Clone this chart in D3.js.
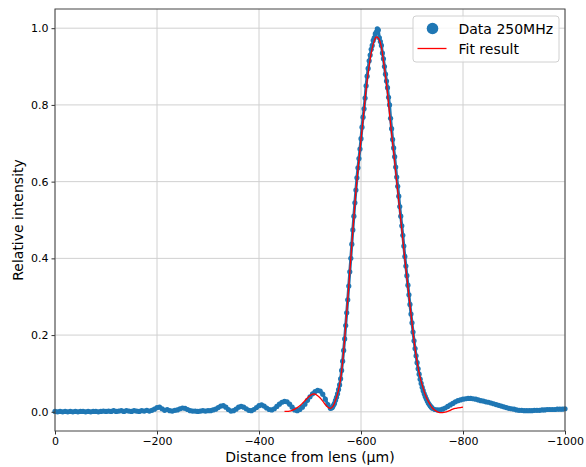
<!DOCTYPE html>
<html>
<head>
<meta charset="utf-8">
<script src="https://cdn.jsdelivr.net/npm/d3@7"></script>
<style>
  body { margin: 0; background: #fff; }
  svg text { font-family: "DejaVu Sans", sans-serif; fill: #000; }
</style>
</head>
<body>
<div id="plot"></div>
<script>
// measured points [distance (µm), relative intensity]
const dataPoints = [
  [0, 0.001], [-5, 0.000], [-10, 0.001], [-15, 0.000], [-20, 0.001], [-25, 0.000], [-30, 0.001], [-35, 0.000],
  [-40, 0.001], [-45, 0.000], [-50, 0.001], [-55, 0.001], [-60, 0.000], [-65, 0.001], [-70, 0.000], [-75, 0.001],
  [-80, 0.001], [-85, 0.000], [-90, 0.001], [-95, 0.002], [-100, 0.001], [-105, 0.002], [-110, 0.001], [-115, 0.003],
  [-120, 0.001], [-125, 0.002], [-130, 0.003], [-135, 0.001], [-140, 0.003], [-145, 0.002], [-150, 0.001], [-155, 0.003],
  [-160, 0.002], [-165, 0.001], [-170, 0.003], [-175, 0.002], [-180, 0.004], [-185, 0.002], [-190, 0.004], [-195, 0.007],
  [-200, 0.011], [-205, 0.012], [-210, 0.008], [-215, 0.004], [-220, 0.006], [-225, 0.003], [-230, 0.002], [-235, 0.004],
  [-240, 0.005], [-245, 0.008], [-250, 0.010], [-255, 0.009], [-260, 0.006], [-265, 0.003], [-270, 0.002], [-275, 0.002],
  [-280, 0.001], [-285, 0.002], [-290, 0.003], [-295, 0.002], [-300, 0.003], [-305, 0.003], [-310, 0.005], [-315, 0.007],
  [-320, 0.011], [-325, 0.015], [-330, 0.016], [-335, 0.012], [-340, 0.006], [-345, 0.002], [-350, 0.003], [-355, 0.007],
  [-360, 0.012], [-365, 0.014], [-370, 0.012], [-375, 0.008], [-380, 0.004], [-385, 0.003], [-390, 0.006], [-395, 0.011],
  [-400, 0.016], [-405, 0.018], [-410, 0.015], [-415, 0.010], [-420, 0.006], [-425, 0.005], [-430, 0.008], [-435, 0.014],
  [-440, 0.020], [-445, 0.025], [-450, 0.027], [-455, 0.026], [-460, 0.020], [-465, 0.012], [-470, 0.005], [-475, 0.003],
  [-480, 0.006], [-485, 0.012], [-490, 0.020], [-495, 0.030], [-500, 0.039], [-505, 0.047], [-510, 0.053], [-515, 0.056],
  [-520, 0.054], [-525, 0.046], [-530, 0.033], [-535, 0.019], [-540, 0.009],
  [-542, 0.010], [-544, 0.012], [-546, 0.017], [-548, 0.022], [-550, 0.030], [-552, 0.038], [-554, 0.047], [-556, 0.058],
  [-558, 0.070], [-560, 0.086], [-562, 0.108], [-564, 0.132], [-566, 0.160], [-568, 0.190], [-570, 0.225], [-572, 0.258],
  [-574, 0.292], [-576, 0.328], [-578, 0.365], [-580, 0.400], [-582, 0.437], [-584, 0.474], [-586, 0.510], [-588, 0.545],
  [-590, 0.578], [-592, 0.610], [-594, 0.636], [-596, 0.660], [-598, 0.685], [-600, 0.712], [-602, 0.742], [-604, 0.768],
  [-606, 0.790], [-608, 0.818], [-610, 0.850], [-612, 0.875], [-614, 0.895], [-616, 0.915], [-618, 0.930], [-620, 0.945],
  [-622, 0.955], [-624, 0.968], [-626, 0.975], [-628, 0.985], [-630, 0.990], [-632, 0.998], [-634, 0.995], [-636, 0.975],
  [-638, 0.965], [-640, 0.955], [-642, 0.935], [-644, 0.920], [-646, 0.900], [-648, 0.880], [-650, 0.862], [-652, 0.845],
  [-654, 0.820], [-656, 0.800], [-658, 0.765], [-660, 0.738], [-662, 0.710], [-664, 0.688], [-666, 0.665], [-668, 0.638],
  [-670, 0.612], [-672, 0.588], [-674, 0.562], [-676, 0.535], [-678, 0.510], [-680, 0.485], [-682, 0.460], [-684, 0.432],
  [-686, 0.405], [-688, 0.380], [-690, 0.355], [-692, 0.330], [-694, 0.305], [-696, 0.280], [-698, 0.255], [-700, 0.232],
  [-702, 0.208], [-704, 0.185], [-706, 0.165], [-708, 0.146], [-710, 0.128], [-712, 0.112], [-714, 0.098], [-716, 0.085],
  [-718, 0.074], [-720, 0.064], [-722, 0.055], [-724, 0.047], [-726, 0.040], [-728, 0.034], [-730, 0.028], [-732, 0.023],
  [-734, 0.019], [-736, 0.015], [-738, 0.012], [-740, 0.009],
  [-745, 0.006], [-750, 0.005], [-755, 0.005], [-760, 0.007], [-765, 0.010], [-770, 0.014], [-775, 0.018], [-780, 0.022],
  [-785, 0.026], [-790, 0.029], [-795, 0.031], [-800, 0.033], [-805, 0.034], [-810, 0.035], [-815, 0.035], [-820, 0.034],
  [-825, 0.033], [-830, 0.031], [-835, 0.029], [-840, 0.028], [-845, 0.026], [-850, 0.025], [-855, 0.023], [-860, 0.021],
  [-865, 0.019], [-870, 0.017], [-875, 0.015], [-880, 0.013], [-885, 0.011], [-890, 0.009], [-895, 0.008], [-900, 0.007],
  [-905, 0.005], [-910, 0.004], [-915, 0.004], [-920, 0.003], [-925, 0.003], [-930, 0.003], [-935, 0.003], [-940, 0.004],
  [-945, 0.004], [-950, 0.004], [-955, 0.005], [-960, 0.005], [-965, 0.006], [-970, 0.006], [-975, 0.006], [-980, 0.006],
  [-985, 0.007], [-990, 0.007], [-995, 0.007], [-1000, 0.008]
];

// fitted curve [distance (µm), relative intensity]
const fitPoints = [
  [-450, 0.001], [-455, 0.001], [-460, 0.002], [-465, 0.004], [-470, 0.007], [-475, 0.011], [-480, 0.016], [-485, 0.022],
  [-490, 0.029], [-495, 0.036], [-500, 0.042], [-505, 0.046], [-510, 0.046], [-515, 0.042], [-520, 0.036], [-525, 0.028],
  [-530, 0.019], [-535, 0.012], [-540, 0.009], [-545, 0.014], [-550, 0.030], [-555, 0.052], [-560, 0.085], [-565, 0.145],
  [-570, 0.225], [-575, 0.310], [-580, 0.400], [-585, 0.490], [-590, 0.575], [-595, 0.645], [-600, 0.710], [-605, 0.775],
  [-610, 0.840], [-615, 0.893], [-620, 0.935], [-625, 0.963], [-630, 0.977], [-635, 0.972], [-640, 0.950], [-645, 0.905],
  [-650, 0.855], [-655, 0.790], [-660, 0.725], [-665, 0.665], [-670, 0.600], [-675, 0.537], [-680, 0.475], [-685, 0.410],
  [-690, 0.350], [-695, 0.290], [-700, 0.232], [-705, 0.175], [-710, 0.130], [-715, 0.095], [-720, 0.070], [-725, 0.048],
  [-730, 0.032], [-735, 0.020], [-740, 0.010], [-745, 0.004], [-750, 0.000], [-755, -0.002], [-760, -0.002], [-765, -0.001],
  [-770, 0.001], [-775, 0.004], [-780, 0.007], [-785, 0.009], [-790, 0.010], [-795, 0.011], [-800, 0.012]
];

const xTicks = [0, -200, -400, -600, -800, -1000];
const yTicks = [0.0, 0.2, 0.4, 0.6, 0.8, 1.0];
const legendLabels = ['Data 250MHz', 'Fit result'];

const W = 586, H = 467;
const margin = { top: 9, right: 21, bottom: 36, left: 55 };
const width = W - margin.left - margin.right,
      height = H - margin.top - margin.bottom;

const svg = d3.select("#plot").append("svg")
    .attr("width", W)
    .attr("height", H);

const g = svg.append("g")
    .attr("transform", "translate(" + margin.left + "," + margin.top + ")");

const x = d3.scaleLinear().domain([0, -1000]).range([0, width]);
const y = d3.scaleLinear().domain([-0.05, 1.05]).range([height, 0]);

const minus = (v) => String(v).replace("-", "\u2212");

// grid
g.append("g").selectAll("line").data(xTicks).join("line")
    .attr("x1", d => x(d)).attr("x2", d => x(d))
    .attr("y1", 0).attr("y2", height)
    .attr("stroke", "#d0d0d0").attr("stroke-width", 1);
g.append("g").selectAll("line").data(yTicks).join("line")
    .attr("x1", 0).attr("x2", width)
    .attr("y1", d => y(d)).attr("y2", d => y(d))
    .attr("stroke", "#d0d0d0").attr("stroke-width", 1);

// data
const dataColor = "#1f77b4";
g.append("path")
    .datum(dataPoints)
    .attr("fill", "none")
    .attr("stroke", dataColor)
    .attr("stroke-width", 3)
    .attr("stroke-linejoin", "round")
    .attr("d", d3.line().x(d => x(d[0])).y(d => y(d[1])));
g.append("g").selectAll("circle").data(dataPoints).join("circle")
    .attr("cx", d => x(d[0]))
    .attr("cy", d => y(d[1]))
    .attr("r", 2.6)
    .attr("fill", dataColor);

// fit
g.append("path")
    .datum(fitPoints)
    .attr("fill", "none")
    .attr("stroke", "#ff0000")
    .attr("stroke-width", 1.3)
    .attr("d", d3.line().curve(d3.curveCatmullRom).x(d => x(d[0])).y(d => y(d[1])));

// axes
const xAxis = g.append("g")
    .attr("transform", "translate(0," + height + ")")
    .call(d3.axisBottom(x).tickValues(xTicks).tickFormat(d => minus(d)).tickSize(3.5).tickPadding(3));
const yAxis = g.append("g")
    .call(d3.axisLeft(y).tickValues(yTicks).tickFormat(d3.format(".1f")).tickSize(3.5).tickPadding(3));
[xAxis, yAxis].forEach(a => {
    a.select(".domain").remove();
    a.selectAll(".tick line").attr("stroke", "#333");
    a.selectAll(".tick text").attr("font-size", 11).attr("font-family", "DejaVu Sans").attr("fill", "#111");
});

// spines
g.append("rect")
    .attr("width", width).attr("height", height)
    .attr("fill", "none").attr("stroke", "#444").attr("stroke-width", 1);

// axis labels
svg.append("text")
    .attr("x", margin.left + width / 2).attr("y", 462)
    .attr("text-anchor", "middle").attr("font-size", 14)
    .text("Distance from lens (µm)");
svg.append("text")
    .attr("transform", "translate(23," + (margin.top + height / 2) + ") rotate(-90)")
    .attr("text-anchor", "middle").attr("font-size", 14)
    .text("Relative intensity");

// legend
const lg = svg.append("g").attr("transform", "translate(413,16)");
lg.append("rect")
    .attr("width", 146).attr("height", 46).attr("rx", 3)
    .attr("fill", "#fff").attr("fill-opacity", 0.8)
    .attr("stroke", "#d0d0d0");
lg.append("circle").attr("cx", 19.5).attr("cy", 12.5).attr("r", 5.8).attr("fill", dataColor);
lg.append("line").attr("x1", 4.5).attr("x2", 33.5).attr("y1", 32.5).attr("y2", 32.5)
    .attr("stroke", "#ff0000").attr("stroke-width", 1.3);
lg.selectAll("text.lab").data(legendLabels).join("text")
    .attr("class", "lab")
    .attr("x", 45.5).attr("y", (d, i) => 17.5 + i * 20)
    .attr("font-size", 14)
    .text(d => d);
</script>
</body>
</html>
